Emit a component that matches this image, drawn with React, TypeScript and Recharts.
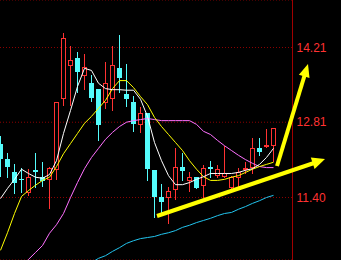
import { ComposedChart, Bar, Line, XAxis, YAxis, CartesianGrid } from 'recharts'

const RED = '#ff3232'
const CYAN = '#54fcfc'

// candles, left to right
const opens = [12.41, 12.13, 11.87, 11.74, 11.51, 11.91, 11.79, 11.74, 11.93, 13.26, 13.89, 14.02, 13.7, 13.55, 13.44, 13.18, 13.26, 13.82, 13.33, 13.18, 12.77, 12.99, 11.91, 11.4, 11.4, 11.55, 11.98, 11.72, 11.78, 11.64, 11.98, 11.83, 11.81, 11.59, 11.78, 11.93, 11.98, 12.32, 12.36, 12.39]
const highs = [12.56, 12.24, 12.02, 11.96, 11.94, 12.24, 12.07, 11.98, 13.18, 14.49, 14.23, 14.12, 14.08, 13.69, 13.44, 13.93, 14.23, 14.44, 13.91, 13.31, 13.09, 12.99, 11.91, 11.66, 11.59, 12.32, 12.24, 11.87, 11.78, 12.0, 12.09, 12.0, 12.37, 11.81, 11.96, 12.07, 12.52, 12.51, 12.69, 12.71]
const lows = [11.81, 11.79, 11.49, 11.51, 11.44, 11.59, 11.61, 11.21, 11.74, 13.14, 13.14, 13.37, 13.44, 13.2, 12.47, 13.07, 13.03, 13.37, 13.12, 12.64, 12.62, 11.72, 11.03, 11.12, 10.93, 11.38, 11.72, 11.53, 11.57, 11.4, 11.78, 11.78, 11.78, 11.53, 11.57, 11.85, 11.85, 12.19, 12.34, 12.09]
const closes = [12.13, 11.98, 11.68, 11.72, 11.79, 11.87, 11.7, 11.96, 13.18, 14.38, 13.97, 13.76, 13.85, 13.26, 12.75, 13.54, 13.89, 13.63, 13.24, 12.77, 12.99, 11.94, 11.4, 11.31, 11.53, 11.98, 11.89, 11.78, 11.57, 11.96, 11.93, 11.93, 11.85, 11.78, 11.87, 11.96, 12.32, 12.26, 12.39, 12.71]

// moving averages
const ma5 = [11.38, 11.57, 11.74, 11.93, 11.85, 11.78, 11.76, 11.83, 12.09, 12.6, 13.03, 13.48, 13.82, 13.78, 13.54, 13.44, 13.42, 13.42, 13.41, 13.41, 13.24, 12.92, 12.43, 12.09, 11.81, 11.64, 11.64, 11.68, 11.74, 11.79, 11.85, 11.85, 11.85, 11.85, 11.87, 11.91, 11.94, 12.02, 12.15, 12.32]
const ma10 = [10.41, 10.74, 11.1, 11.42, 11.53, 11.63, 11.72, 11.78, 11.98, 12.22, 12.41, 12.6, 12.79, 12.92, 13.07, 13.22, 13.44, 13.59, 13.59, 13.46, 13.29, 13.14, 12.9, 12.73, 12.58, 12.43, 12.28, 12.09, 11.93, 11.79, 11.72, 11.72, 11.74, 11.78, 11.81, 11.87, 11.93, 11.98, 12.02, 12.06]
const ma20 = [null, null, null, 9.99, 10.24, 10.37, 10.5, 10.73, 10.89, 11.1, 11.4, 11.68, 11.94, 12.15, 12.32, 12.49, 12.62, 12.73, 12.81, 12.84, 12.86, 12.88, 12.86, 12.84, 12.84, 12.84, 12.84, 12.84, 12.77, 12.64, 12.58, 12.47, 12.37, 12.28, 12.19, 12.11, 12.04, 11.98, 11.96, 11.96]
const ma60 = [null, null, null, null, null, null, null, null, null, null, null, null, 10.11, 10.18, 10.26, 10.31, 10.39, 10.46, 10.54, 10.59, 10.63, 10.65, 10.67, 10.71, 10.74, 10.78, 10.84, 10.88, 10.93, 10.97, 11.01, 11.06, 11.1, 11.12, 11.18, 11.23, 11.29, 11.34, 11.4, 11.44]

const priceTicks = [11.4, 12.81, 14.21]

const data = opens.map((o, i) => ({
  i: i + 1,
  open: o,
  high: highs[i],
  low: lows[i],
  close: closes[i],
  range: [lows[i], highs[i]],
  ma5: ma5[i],
  ma10: ma10[i],
  ma20: ma20[i],
  ma60: ma60[i],
}))

function Candle(props: any) {
  const { x, y, width, height, payload } = props
  const { open, close, high, low } = payload
  const up = close >= open
  const h = Math.abs(height)
  const top0 = Math.min(y, y + height)
  const toY = (v: number) => top0 + ((high - v) / (high - low)) * h
  const cx = Math.floor(x + width / 2) + 0.5
  const left = Math.round(x)
  const bTop = Math.round(toY(Math.max(open, close)))
  const bBot = Math.round(toY(Math.min(open, close)))
  const yHi = Math.round(toY(high))
  const yLo = Math.round(toY(low))
  if (up) {
    return (
      <g>
        <line x1={cx} x2={cx} y1={yHi} y2={bTop} stroke={RED} />
        <line x1={cx} x2={cx} y1={bBot + 1} y2={yLo + 1} stroke={RED} />
        <rect x={left + 0.5} y={bTop + 0.5} width={4} height={Math.max(bBot - bTop, 1)} fill="#000" stroke={RED} />
      </g>
    )
  }
  return (
    <g>
      <line x1={cx} x2={cx} y1={yHi} y2={yLo + 1} stroke={CYAN} />
      <rect x={left} y={bTop} width={5} height={Math.max(bBot - bTop, 1)} fill={CYAN} />
    </g>
  )
}

export default function App() {
  return (
    <div style={{ position: 'absolute', left: 0, top: 0, width: 341, height: 260, background: '#000' }}>
      <ComposedChart
        width={341}
        height={260}
        data={data}
        margin={{ top: 0, right: 0, bottom: 0, left: 0 }}
        style={{ fontFamily: '"Liberation Sans", Arial, sans-serif' }}
      >
        <CartesianGrid horizontal vertical={false} stroke="#8c0000" strokeDasharray="1 2" />
        <XAxis dataKey="i" type="number" domain={[0.9286, 42.714]} allowDataOverflow hide />
        <YAxis
          orientation="right"
          width={48.5}
          domain={[10.229, 15.1]}
          allowDataOverflow
          ticks={priceTicks}
          interval={0}
          tickFormatter={(v: number) => v.toFixed(2)}
          axisLine={{ stroke: '#a00000' }}
          tickLine={false}
          tickSize={2}
          tickMargin={2}
          tick={{ fill: RED, fontSize: 12 }}
        />
        <Bar dataKey="range" barSize={5} shape={<Candle />} isAnimationActive={false} />
        <Line dataKey="ma60" stroke="#22c4ee" dot={false} activeDot={false} strokeWidth={1} isAnimationActive={false} />
        <Line dataKey="ma20" stroke="#ff70ff" dot={false} activeDot={false} strokeWidth={1} isAnimationActive={false} />
        <Line dataKey="ma10" stroke="#ffff00" dot={false} activeDot={false} strokeWidth={1} isAnimationActive={false} />
        <Line dataKey="ma5" stroke="#ffffff" dot={false} activeDot={false} strokeWidth={1} isAnimationActive={false} />
      </ComposedChart>
      <svg width={341} height={260} style={{ position: 'absolute', left: 0, top: 0, pointerEvents: 'none' }}>
        <line x1={157} y1={216} x2={314} y2={163} stroke="#ffff00" strokeWidth={4} />
        <polygon points="325,159 314.6,169 310.8,157.5" fill="#ffff00" />
        <line x1={277} y1={166} x2={305} y2={74} stroke="#ffff00" strokeWidth={4} />
        <polygon points="308,64 309.5,78 298.9,74.8" fill="#ffff00" />
      </svg>
    </div>
  )
}
